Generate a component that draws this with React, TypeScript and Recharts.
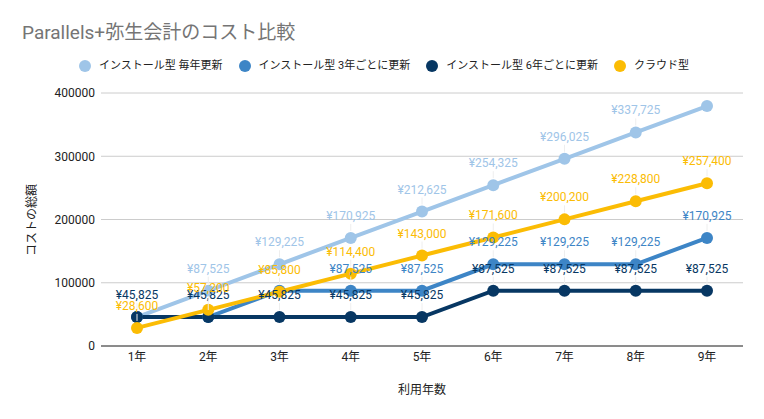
import { CartesianGrid, LabelList, Line, LineChart, XAxis, YAxis } from "recharts";

const years = ["1年", "2年", "3年", "4年", "5年", "6年", "7年", "8年", "9年"];
const everyYear = [45825, 87525, 129225, 170925, 212625, 254325, 296025, 337725, 379425];
const every3Years = [45825, 45825, 87525, 87525, 87525, 129225, 129225, 129225, 170925];
const every6Years = [45825, 45825, 45825, 45825, 45825, 87525, 87525, 87525, 87525];
const cloud = [28600, 57200, 85800, 114400, 143000, 171600, 200200, 228800, 257400];
const yTicks = [0, 100000, 200000, 300000, 400000];

// which point labels are visible (the others are hidden by overlap in the original)
const everyYearShown = [1, 2, 3, 4, 5, 6, 7];
const every3Shown = [3, 4, 5, 6, 7, 8];
const every6Shown = [0, 1, 2, 3, 4, 5, 6, 7, 8];
const cloudShown = [0, 1, 2, 3, 4, 5, 6, 7, 8];

const data = years.map((year, i) => ({
  year,
  everyYear: everyYear[i],
  every3Years: every3Years[i],
  every6Years: every6Years[i],
  cloud: cloud[i],
}));

const series = [
  { key: "everyYear", name: "インストール型 毎年更新", color: "#9fc5e8", shown: everyYearShown },
  { key: "every3Years", name: "インストール型 3年ごとに更新", color: "#3d85c6", shown: every3Shown },
  { key: "every6Years", name: "インストール型 6年ごとに更新", color: "#073763", shown: every6Shown },
  { key: "cloud", name: "クラウド型", color: "#fbbc04", shown: cloudShown },
];

const font = "Roboto, 'Noto Sans CJK JP', sans-serif";

const yen = (v: number) => "¥" + v.toLocaleString("en-US");

const makeLabel = (color: string, shown: number[]) => (props: any) => {
  const { x, y, value, index } = props;
  if (!shown.includes(index)) return null;
  return (
    <g>
      <line x1={x} x2={x} y1={y - 7} y2={y - 14} stroke="#eeeeee" strokeWidth={1} />
      <text x={x} y={y - 18} textAnchor="middle" fill={color} fontSize={12} fontFamily={font}>
        {yen(value)}
      </text>
    </g>
  );
};

const App = () => {
  return (
    <div style={{ position: "absolute", left: 0, top: 0, width: 764, height: 419, background: "#fff", fontFamily: font }}>
      <div style={{ position: "absolute", left: 22, top: 23, fontSize: 19, lineHeight: "20px", color: "#757575", whiteSpace: "nowrap" }}>
        Parallels+弥生会計のコスト比較
      </div>
      <div
        style={{
          position: "absolute",
          left: 79,
          top: 59,
          display: "flex",
          fontSize: 11,
          lineHeight: "14px",
          color: "#222",
          whiteSpace: "nowrap",
        }}
      >
        {series.map((s) => (
          <div key={s.key} style={{ display: "flex", alignItems: "center", marginRight: 16 }}>
            <span style={{ width: 12, height: 12, borderRadius: "50%", background: s.color, display: "inline-block", marginRight: 8 }} />
            <span>{s.name}</span>
          </div>
        ))}
      </div>
      <div
        style={{
          position: "absolute",
          left: 30,
          top: 220,
          transform: "translate(-50%, -50%) rotate(-90deg)",
          fontSize: 12,
          color: "#222",
          whiteSpace: "nowrap",
        }}
      >
        コストの総額
      </div>
      <div style={{ position: "absolute", left: 422, top: 388, transform: "translate(-50%, -50%)", fontSize: 12, color: "#222" }}>
        利用年数
      </div>
      <LineChart width={764} height={419} data={data} margin={{ top: 93, right: 21, bottom: 0, left: 0 }}>
        <CartesianGrid vertical={false} stroke="#cccccc" />
        <XAxis
          dataKey="year"
          height={73}
          padding={{ left: 36, right: 36 }}
          tickLine={false}
          axisLine={{ stroke: "#333333" }}
          tick={{ fill: "#222", fontSize: 12, fontFamily: font }}
          tickSize={6}
          tickMargin={0}
        />
        <YAxis
          width={101}
          domain={[0, 400000]}
          ticks={yTicks}
          axisLine={false}
          tickLine={false}
          tickSize={6}
          tickMargin={0}
          tick={{ fill: "#222", fontSize: 12, fontFamily: font }}
        />
        {series.map((s) => (
          <Line
            key={s.key}
            dataKey={s.key}
            name={s.name}
            stroke={s.color}
            strokeWidth={4}
            dot={{ r: 6, fill: s.color, stroke: s.color, strokeWidth: 0 }}
            isAnimationActive={false}
          >
            <LabelList dataKey={s.key} content={makeLabel(s.color, s.shown)} />
          </Line>
        ))}
      </LineChart>
    </div>
  );
};

export default App;
